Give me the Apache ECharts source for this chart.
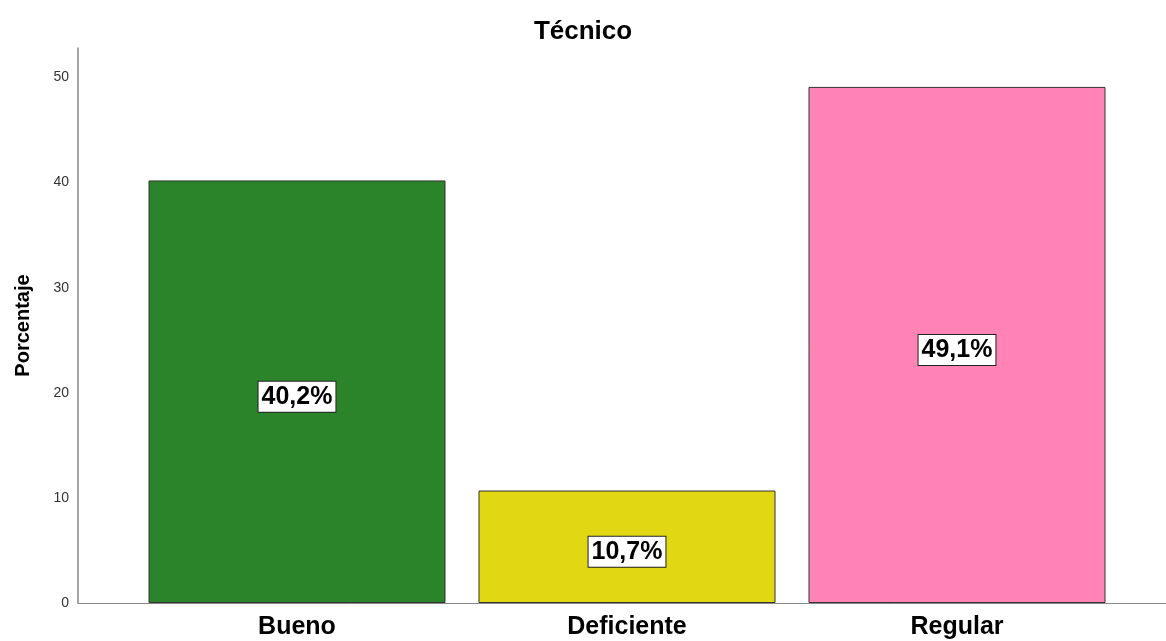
<!DOCTYPE html>
<html>
<head>
<meta charset="utf-8">
<script src="https://cdn.jsdelivr.net/npm/echarts@6/dist/echarts.min.js"></script>
<style>
  html, body { margin: 0; padding: 0; background: #fff; }
  #Map { width: 1166px; height: 641px; }
</style>
</head>
<body>
<div id="Map"></div>
<script>
// data
var categorias = ['Bueno', 'Deficiente', 'Regular'];
var porcentajes = [40.2, 10.7, 49.1];
var colores = ['#2b8429', '#e2d713', '#ff84b5'];
var yTicks = [0, 10, 20, 30, 40, 50];
var yMax = 52.8;

var datos = [];
for (var i = 0; i < porcentajes.length; i++) {
  datos.push({ value: porcentajes[i], itemStyle: { color: colores[i] } });
}

var myChart = echarts.init(document.getElementById('Map'));
var option = {
  animation: false,
  title: {
    text: 'Técnico',
    left: 'center',
    top: 14,
    textStyle: { fontFamily: 'Liberation Sans, Arial', fontSize: 26, fontWeight: 'bold', color: '#000' }
  },
  grid: [
    { left: 132, right: 44, top: 48, bottom: 38 },
    { left: 78, right: 0, top: 48, bottom: 38 }
  ],
  xAxis: [
    {
      type: 'category',
      gridIndex: 0,
      data: categorias,
      axisLine: { show: false },
      axisTick: { show: false },
      axisLabel: {
        margin: 12,
        fontFamily: 'Liberation Sans, Arial',
        fontSize: 25,
        fontWeight: 'bold',
        color: '#000'
      }
    },
    {
      type: 'value',
      gridIndex: 1,
      min: 0,
      max: 1,
      axisLine: { show: true, lineStyle: { color: '#888', width: 1 } },
      axisTick: { show: false },
      axisLabel: { show: false },
      splitLine: { show: false }
    }
  ],
  yAxis: [
    {
      type: 'value',
      gridIndex: 0,
      min: yTicks[0],
      max: yMax,
      interval: 10,
      offset: 54,
      name: 'Porcentaje',
      nameLocation: 'middle',
      nameGap: 45,
      nameTextStyle: { fontFamily: 'Liberation Sans, Arial', fontSize: 20, fontWeight: 'bold', color: '#000' },
      axisLine: { show: true, lineStyle: { color: '#888', width: 1.5 } },
      axisTick: { show: false },
      splitLine: { show: false },
      axisLabel: {
        showMaxLabel: false,
        margin: 9,
        fontFamily: 'Liberation Sans, Arial',
        fontSize: 14,
        color: '#333',
        formatter: function (v) { return yTicks.indexOf(v) >= 0 ? v : ''; }
      }
    },
    {
      type: 'value',
      gridIndex: 1,
      min: 0,
      max: yMax,
      show: false
    }
  ],
  series: [
    {
      type: 'bar',
      xAxisIndex: 0,
      yAxisIndex: 0,
      barWidth: 297,
      data: datos,
      itemStyle: { borderColor: '#333', borderWidth: 1 },
      label: {
        show: true,
        position: 'inside',
        offset: [0, 5],
        formatter: function (p) { return p.value.toFixed(1).replace('.', ',') + '%'; },
        fontFamily: 'Liberation Sans, Arial',
        fontSize: 25,
        fontWeight: 'bold',
        color: '#000',
        backgroundColor: '#fff',
        borderColor: '#222',
        borderWidth: 1,
        padding: [3, 3, 2, 3]
      }
    }
  ]
};
myChart.setOption(option);
</script>
</body>
</html>
